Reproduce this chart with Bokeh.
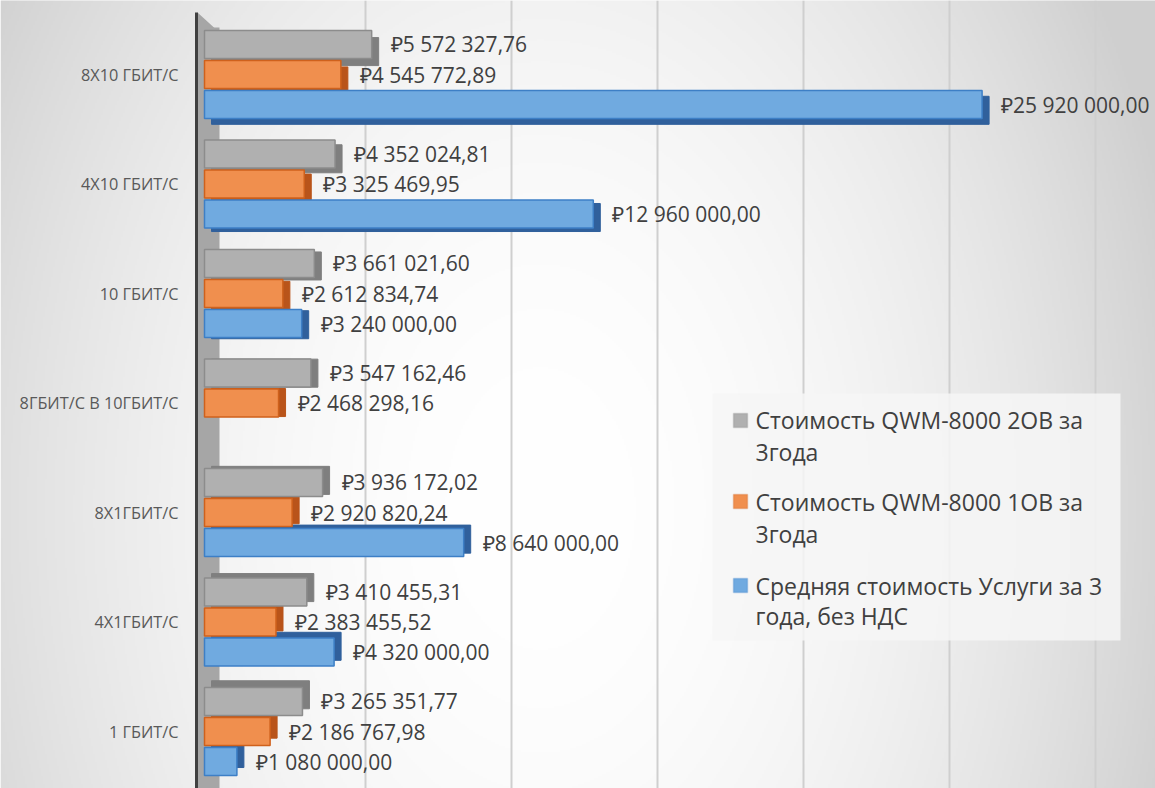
import numpy as np
from bokeh.plotting import figure
from bokeh.models import (ColumnDataSource, Range1d, LinearAxis, FixedTicker, Grid,
                          BoxAnnotation, Label)
from bokeh.core.properties import value
from bokeh.embed import file_html
from bokeh.resources import INLINE

# ---------------- data ----------------
categories = ["8X10 ГБИТ/С", "4X10 ГБИТ/С", "10 ГБИТ/С", "8ГБИТ/С В 10ГБИТ/С",
              "8X1ГБИТ/С", "4X1ГБИТ/С", "1 ГБИТ/С"]
cost_2ov = [5572327.76, 4352024.81, 3661021.60, 3547162.46, 3936172.02, 3410455.31, 3265351.77]
cost_1ov = [4545772.89, 3325469.95, 2612834.74, 2468298.16, 2920820.24, 2383455.52, 2186767.98]
service = [25920000.00, 12960000.00, 3240000.00, None, 8640000.00, 4320000.00, 1080000.00]
series_names = [["Стоимость QWM-8000 2ОВ за", "3года"],
                ["Стоимость QWM-8000 1ОВ за", "3года"],
                ["Средняя стоимость Услуги  за 3", "года, без НДС"]]
grid_ticks = [5e6, 10e6, 15e6, 20e6, 25e6, 30e6]

# ---------------- geometry ----------------
W, H = 1155, 788
PXX = 1e6 / 30.0          # data units per px (x)
PXY = 1 / 109.5           # data units per px (y)
x0_px = 204
x_start = -x0_px * PXX
x_end = (W - x0_px) * PXX
yc_top_px = 74
n = len(categories)
y_end = (n - 1) + yc_top_px * PXY
y_start = (n - 1) - (H - yc_top_px) * PXY

def X(px):
    return (px - x0_px) * PXX

def Y(py):
    return y_end - py * PXY

# back wall (grid) scale
bx0_px = 219
BPXX = 1e6 / 29.2
bx_start = -bx0_px * BPXX
bx_end = (W - bx0_px) * BPXX

p = figure(width=W, height=H, output_backend="svg", toolbar_location=None,
           x_range=Range1d(x_start, x_end), y_range=Range1d(y_start, y_end),
           x_axis_location=None, y_axis_location=None,
           min_border_left=0, min_border_right=0, min_border_top=0, min_border_bottom=0)
p.extra_x_ranges = {"back": Range1d(bx_start, bx_end)}
p.outline_line_color = None
p.xgrid.visible = False
p.ygrid.visible = False
p.background_fill_color = "#ffffff"
p.border_fill_color = "#e0e0e0"

# background gradient
scale = 2
iw, ih = W // scale + 1, H // scale + 1
sx = ((np.arange(iw) + 0.5) * scale)[None, :]
sy = (H - (np.arange(ih) + 0.5) * scale)[:, None]   # row 0 = bottom
delta = 1.1e-4 * (sx - 540) ** 2 + 5.0e-5 * (sy - 508) ** 2
delta = np.clip(delta, 0, 48)
g = (255 - delta).astype(np.uint8)
img = np.empty((ih, iw), dtype=np.uint32)
view = img.view(dtype=np.uint8).reshape((ih, iw, 4))
view[..., 0] = g
view[..., 1] = g
view[..., 2] = g
view[..., 3] = 255
p.image_rgba(image=[img], x=x_start, y=y_start, dw=iw * scale * PXX, dh=ih * scale * PXY,
             level="image")

# grid on back wall
grid = Grid(dimension=0, ticker=FixedTicker(ticks=grid_ticks), x_range_name="back",
            grid_line_color="#cfcfcf", grid_line_width=2)
p.add_layout(grid)

# side wall
wall = BoxAnnotation(left=X(197), right=X(219), top=Y(27), bottom=y_start,
                     fill_color="#a6a6a6", fill_alpha=1.0, line_color=None, level="underlay")
p.add_layout(wall)
wall_top = p.patch(x=[X(197), X(214), X(219), X(197)], y=[Y(12), Y(27.5), Y(27.5), Y(27.5)],
                   fill_color="#a6a6a6", line_color=None, level="underlay")

# ---------------- bars ----------------
ypos = [n - 1 - i for i in range(n)]
offsets = [0.274, 0.0, -0.274]
bar_h = 0.256
fills = ["#b0b0b0", "#f08f4e", "#70aae0"]
lines = ["#8c8c8c", "#cf611c", "#3d7fc6"]
sides = ["#7f7f7f", "#b9541a", "#30609c"]
dx = 7 * PXX

def fmt(v):
    return "₽" + f"{v:,.2f}".replace(",", " ").replace(".", ",")

sources = []
for vals, off in zip([cost_2ov, cost_1ov, service], offsets):
    ys, vs = [], []
    for y, v in zip(ypos, vals):
        if v is None:
            continue
        ys.append(y + off)
        vs.append(v)
    sources.append((np.array(ys, dtype=float), np.array(vs, dtype=float)))

# depth faces first
for (ys, vs), sc in zip(sources, sides):
    dy_down_px = 2.3 * (ys - 3.2)
    depth = ColumnDataSource(dict(y=ys - dy_down_px * PXY, left=np.full(len(vs), dx), right=vs + dx))
    p.hbar(y="y", left="left", right="right", height=bar_h, source=depth,
           fill_color=sc, line_color=sc, line_width=1)

# front faces and labels
for (ys, vs), fc, lc in zip(sources, fills, lines):
    src = ColumnDataSource(dict(y=ys, right=vs, left=np.zeros(len(vs)),
                                label=[fmt(v) for v in vs]))
    p.hbar(y="y", left="left", right="right", height=bar_h, source=src,
           fill_color=fc, line_color=lc, line_width=1.5)
    p.text(x="right", y="y", text="label", source=src, x_offset=19,
           text_baseline="middle", text_align="left", text_font=value("Open Sans"),
           text_font_size="21px", text_color="#404040")

# ---------------- axis ----------------
yaxis = LinearAxis(fixed_location=X(196), ticker=FixedTicker(ticks=ypos),
                   major_label_overrides={y: c for y, c in zip(ypos, categories)},
                   bounds=(y_start, Y(12)))
yaxis.axis_line_color = "#404040"
yaxis.axis_line_width = 3
yaxis.major_tick_line_color = None
yaxis.minor_tick_line_color = None
yaxis.major_label_text_font = "Open Sans"
yaxis.major_label_text_font_size = "16.3px"
yaxis.major_label_text_color = "#595959"
yaxis.major_label_standoff = 12
p.add_layout(yaxis, "left")

# ---------------- legend ----------------
p.add_layout(BoxAnnotation(left=X(712), right=X(1120), top=Y(393), bottom=Y(640),
                           fill_color="#f6f6f6", fill_alpha=0.85, line_color=None))
marker_y = [420, 501, 585]
line_y = [(419, 451), (501, 533), (585, 615)]
for names, my, (l1, l2), fc, lc in zip(series_names, marker_y, line_y, fills, lines):
    p.add_layout(BoxAnnotation(left=X(733), right=X(747), top=Y(my - 7), bottom=Y(my + 7),
                               fill_color=fc, fill_alpha=1.0, line_color=lc, line_width=1.5))
    for txt, ly in zip(names, (l1, l2)):
        p.add_layout(Label(x=X(755), y=Y(ly), text=txt, text_baseline="middle",
                           text_align="left", text_font="Open Sans", text_font_size="23px",
                           text_color="#404040"))

open("out.html", "w").write(file_html(p, INLINE))
